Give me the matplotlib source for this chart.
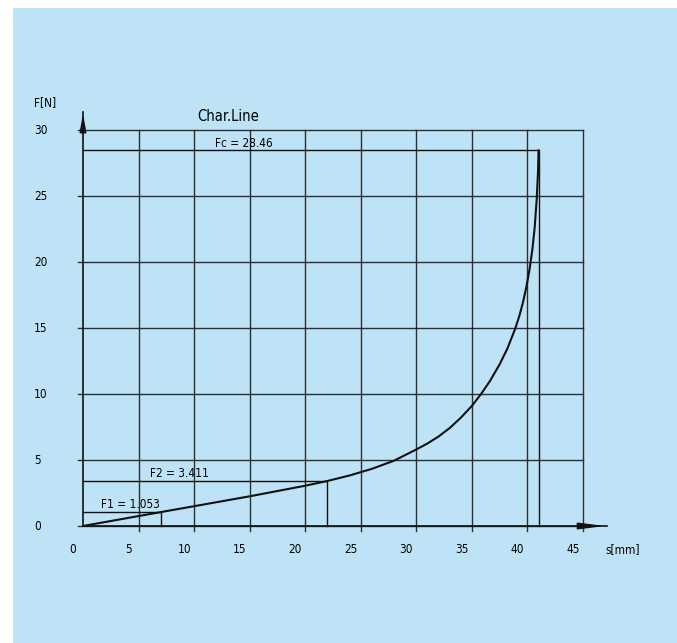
import matplotlib
matplotlib.use("Agg")
import matplotlib.pyplot as plt
import matplotlib.transforms as mtransforms
from matplotlib.patches import Rectangle

# spring characteristic: travel s [mm] vs force F [N]
s_mm = [0, 7.0, 10, 15, 20, 22, 24, 26, 28, 30, 31, 32, 33, 34, 35, 35.8,
        36.6, 37.5, 38.2, 38.9, 39.3, 39.6, 39.9, 40.2, 40.45, 40.65, 40.83,
        40.95, 41.0]
force_n = [0, 1.053, 1.5, 2.25, 3.05, 3.411, 3.83, 4.33, 4.95, 5.8, 6.25, 6.78,
           7.42, 8.2, 9.1, 9.97, 10.95, 12.25, 13.45, 14.95, 16.0, 16.95, 18.1,
           19.5, 21.0, 22.6, 24.7, 26.8, 28.46]

# marked operating points
s1, f1 = 7.0, 1.053
s2, f2 = 22.0, 3.411
sc, fc = 41.0, 28.46

x_ticks = [0, 5, 10, 15, 20, 25, 30, 35, 40, 45]
y_ticks = [0, 5, 10, 15, 20, 25, 30]

plt.rcParams['font.family'] = ['DejaVu Sans']
plt.rcParams['font.stretch'] = 'condensed'
BG = '#bee3f6'
INK = '#111111'

fig = plt.figure(figsize=(6.77, 6.43), dpi=100, facecolor='white')
fig.patches.append(Rectangle((13 / 677, 0), 1, 1 - 8 / 643, transform=fig.transFigure,
                             facecolor=BG, edgecolor='none', zorder=-10))

ax = fig.add_axes([83 / 677, 117 / 643, 500 / 677, 396 / 643])
ax.set_facecolor('none')
ax.set_xlim(0, 45)
ax.set_ylim(0, 30)
for sp in ax.spines.values():
    sp.set_visible(False)

# grid with short ticks sticking out of the axes
tick_len_x = 0.45
tick_len_y = 0.4
for x in x_ticks[1:]:
    ax.plot([x, x], [-tick_len_y, 30], color=INK, lw=1.0, clip_on=False, alpha=0.85)
for y in y_ticks:
    ax.plot([-tick_len_x, 45], [y, y], color=INK, lw=1.0, clip_on=False, alpha=0.85)

# axes with arrows
ax.plot([0, 0], [0, 31.4], color=INK, lw=1.2, clip_on=False)
ax.plot([0, 47.2], [0, 0], color=INK, lw=1.2, clip_on=False)
ax.annotate('', xy=(0, 31.45), xytext=(0, 30.2),
            arrowprops=dict(arrowstyle='-|>,head_length=1.1,head_width=0.2',
                            color=INK, lw=1.0), annotation_clip=False)
ax.annotate('', xy=(47.25, 0), xytext=(45.3, 0),
            arrowprops=dict(arrowstyle='-|>,head_length=1.6,head_width=0.2',
                            color=INK, lw=1.0), annotation_clip=False)

# operating point markers
for s, f in [(s1, f1), (s2, f2), (sc, fc)]:
    ax.plot([0, s, s], [f, f, 0], color=INK, lw=1.0, clip_on=False)

ax.plot(s_mm, force_n, color=INK, lw=1.5, clip_on=False, solid_joinstyle='round')

ax.text(4.25, f1 + 0.6, f'F1 = {f1:.3f}', ha='center', va='center', fontsize=8.5)
ax.text(8.7, f2 + 0.56, f'F2 = {f2:.3f}', ha='center', va='center', fontsize=8.5)
ax.text(14.5, fc + 0.55, f'Fc = {fc:.2f}', ha='center', va='center', fontsize=8.5)

ax.set_xticks([])
ax.set_yticks([])

# tick labels
shift = mtransforms.ScaledTranslation(-10 / 100, 0, fig.dpi_scale_trans)
for x in x_ticks:
    ax.text(x, -1.75, str(x), ha='center', va='center', fontsize=8.5,
            transform=ax.transData + shift)
for y in y_ticks:
    ax.text(-4.4, y, str(y), ha='left', va='center', fontsize=8.5)

ax.text(-4.4, 32.05, 'F[N]', ha='left', va='center', fontsize=8.5)
ax.text(48.6, -1.75, 's[mm]', ha='center', va='center', fontsize=8.5)
ax.text(13.1, 31.0, 'Char.Line', ha='center', va='center', fontsize=10.5)

plt.savefig('out.png', dpi=100, facecolor=fig.get_facecolor())
